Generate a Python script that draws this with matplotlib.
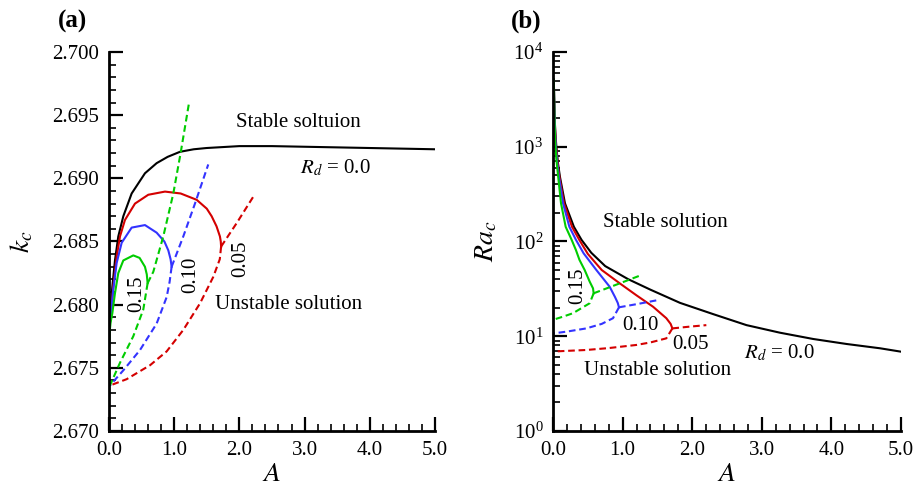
"""Critical wavenumber k_c and critical Rayleigh number Ra_c versus A for several R_d."""

import matplotlib
matplotlib.use("Agg")
import matplotlib.pyplot as plt
from matplotlib.ticker import MultipleLocator, FormatStrFormatter, LogLocator, LogFormatterMathtext, NullFormatter

plt.rcParams['font.family'] = ['Liberation Serif', 'DejaVu Serif']
plt.rcParams['mathtext.fontset'] = 'stix'

RED = '#d40000'
BLUE = '#3333ff'
GREEN = '#00cc00'

# ---- panel (a): k_c vs A ----
a_black = [0.0, 0.005, 0.02, 0.051, 0.092, 0.143, 0.22, 0.348, 0.552, 0.731, 0.9, 1.089, 1.3, 1.498,
           2.0, 2.5, 3.0, 3.5, 4.0, 4.5, 5.0]
k_black = [2.6765, 2.6780, 2.6793, 2.6814, 2.6835, 2.6854, 2.6870, 2.6888, 2.6904, 2.6912, 2.6917, 2.6921,
           2.6923, 2.6924, 2.69255, 2.69255, 2.6925, 2.69245, 2.6924, 2.69235, 2.6923]

a_red_s = [0.0, 0.005, 0.031, 0.066, 0.118, 0.169, 0.245, 0.399, 0.603, 0.859, 1.1, 1.345, 1.5, 1.575,
           1.65, 1.702, 1.715, 1.72]
k_red_s = [2.6765, 2.6780, 2.6793, 2.6814, 2.6838, 2.6854, 2.6867, 2.6880, 2.6887, 2.68895, 2.6888, 2.6883,
           2.6876, 2.6870, 2.6862, 2.6854, 2.6850, 2.6846]
a_red_lo = [1.72, 1.70, 1.6, 1.396, 1.14, 0.885, 0.629, 0.53, 0.271, 0.015]
k_red_lo = [2.6846, 2.6836, 2.6822, 2.6801, 2.6780, 2.6763, 2.6752, 2.6749, 2.6741, 2.6736]
a_red_up = [1.72, 1.958, 2.214]
k_red_up = [2.6846, 2.68645, 2.68855]

a_blue_s = [0.0, 0.005, 0.031, 0.066, 0.118, 0.195, 0.348, 0.552, 0.731, 0.85, 0.91, 0.945, 0.961]
k_blue_s = [2.6765, 2.6780, 2.6793, 2.6812, 2.6833, 2.6849, 2.6861, 2.6863, 2.6857, 2.6850, 2.6843,
            2.6836, 2.6830]
a_blue_lo = [0.961, 0.93, 0.885, 0.731, 0.475, 0.22, 0.015]
k_blue_lo = [2.6830, 2.6818, 2.6806, 2.6785, 2.6764, 2.6748, 2.6736]
a_blue_up = [0.961, 1.14, 1.319, 1.523]
k_blue_up = [2.6830, 2.6854, 2.6880, 2.6911]

a_green_s = [0.0, 0.01, 0.025, 0.051, 0.092, 0.143, 0.22, 0.373, 0.47, 0.552, 0.58, 0.593]
k_green_s = [2.6765, 2.6778, 2.6786, 2.6793, 2.6809, 2.6825, 2.6835, 2.6839, 2.6837, 2.6830, 2.6824, 2.6817]
a_green_lo = [0.593, 0.526, 0.373, 0.169, 0.015]
k_green_lo = [2.6817, 2.6796, 2.6775, 2.6754, 2.6736]
a_green_up = [0.593, 0.68, 0.833, 0.987, 1.099, 1.232]
k_green_up = [2.6817, 2.6826, 2.6854, 2.6888, 2.6920, 2.6961]

# ---- panel (b): Ra_c vs A ----
b_black = [0.012, 0.016, 0.024, 0.034, 0.048, 0.07, 0.1, 0.172, 0.3, 0.41, 0.55, 0.75, 1.08, 1.4,
           1.825, 2.303, 2.78, 3.26, 3.74, 4.22, 4.7, 5.0]
ra_black = [5100, 3300, 2000, 1400, 1000, 680, 480, 253, 143, 104, 76, 55, 40, 31,
            22.5, 17.1, 13.1, 10.9, 9.35, 8.28, 7.46, 6.87]

b_red_s = [0.012, 0.016, 0.023, 0.032, 0.044, 0.065, 0.092, 0.158, 0.273, 0.378, 0.5, 0.7, 0.958, 1.2,
           1.437, 1.628, 1.69, 1.715]
ra_red_s = [5100, 3300, 2000, 1400, 1000, 680, 480, 253, 143, 104, 74, 50, 36.2, 27,
            20.5, 15.5, 13.5, 12.1]
b_red_lo = [1.715, 1.628, 1.4, 1.197, 0.8, 0.479, 0.0]
ra_red_lo = [12.1, 9.5, 8.6, 8.09, 7.5, 7.16, 6.9]
b_red_up = [1.715, 1.95, 2.203]
ra_red_up = [12.1, 12.6, 13.1]

b_blue_s = [0.012, 0.016, 0.022, 0.03, 0.04, 0.06, 0.085, 0.144, 0.235, 0.33, 0.44, 0.623, 0.814,
            0.89, 0.93, 0.948]
ra_blue_s = [5100, 3300, 2000, 1400, 1000, 680, 480, 253, 143, 104, 75, 50, 33.3, 26, 22.5, 20.2]
b_blue_lo = [0.948, 0.862, 0.7, 0.479, 0.2, 0.0]
ra_blue_lo = [20.2, 15.5, 13.5, 12.1, 11.2, 10.7]
b_blue_up = [0.948, 1.23, 1.509]
ra_blue_up = [20.2, 22.0, 24.1]

b_green_s = [0.012, 0.016, 0.021, 0.027, 0.035, 0.053, 0.075, 0.115, 0.182, 0.268, 0.33, 0.38,
             0.455, 0.527, 0.575, 0.584]
ra_green_s = [5100, 3300, 2000, 1400, 1000, 680, 480, 253, 143, 104, 81, 64, 50, 37.7, 32, 28.4]
b_green_lo = [0.584, 0.527, 0.287, 0.144, 0.0]
ra_green_lo = [28.4, 22.3, 17.5, 16.1, 14.9]
b_green_up = [0.584, 0.9, 1.236]
ra_green_up = [28.4, 34.8, 43.3]

DASH = (0, (3.2, 1.8))
LW = 1.5


def style_axes(ax):
    ax.spines['top'].set_visible(False)
    ax.spines['right'].set_visible(False)
    ax.spines['left'].set_linewidth(2.0)
    ax.spines['bottom'].set_linewidth(2.0)
    ax.tick_params(which='major', direction='in', length=10, width=1.6, labelsize=15, pad=7)
    ax.tick_params(which='minor', direction='in', length=5, width=1.2)
    ax.set_xlim(0, 5)
    ax.xaxis.set_major_locator(MultipleLocator(1.0))
    ax.xaxis.set_minor_locator(MultipleLocator(0.2))
    ax.xaxis.set_major_formatter(FormatStrFormatter('%.1f'))
    ax.set_xlabel('$A$', fontsize=20, labelpad=2)


fig = plt.figure(figsize=(9.18, 4.86), dpi=100)
ax1 = fig.add_axes([0.1187, 0.1132, 0.3551, 0.7798])
ax2 = fig.add_axes([0.6024, 0.1132, 0.3791, 0.7798])

# panel (a)
ax1.plot(a_black, k_black, color='black', lw=LW)
for a_s, k_s, a_lo, k_lo, a_up, k_up, c in [
        (a_red_s, k_red_s, a_red_lo, k_red_lo, a_red_up, k_red_up, RED),
        (a_blue_s, k_blue_s, a_blue_lo, k_blue_lo, a_blue_up, k_blue_up, BLUE),
        (a_green_s, k_green_s, a_green_lo, k_green_lo, a_green_up, k_green_up, GREEN)]:
    ax1.plot(a_s, k_s, color=c, lw=LW)
    ax1.plot(a_lo, k_lo, color=c, lw=LW, linestyle=DASH)
    ax1.plot(a_up, k_up, color=c, lw=LW, linestyle=DASH)

style_axes(ax1)
ax1.set_ylim(2.670, 2.700)
ax1.yaxis.set_major_locator(MultipleLocator(0.005))
ax1.yaxis.set_minor_locator(MultipleLocator(0.001))
ax1.yaxis.set_major_formatter(FormatStrFormatter('%.3f'))
ax1.set_ylabel('$k_c$', fontsize=20, labelpad=12)

ax1.text(2.91, 2.6944, 'Stable soltuion', fontsize=15, ha='center', va='center')
ax1.text(3.47, 2.6908, '$R_d$ = 0.0', fontsize=15, ha='center', va='center')
ax1.text(2.76, 2.6800, 'Unstable solution', fontsize=15, ha='center', va='center')
ax1.text(0.43, 2.6809, '0.15', fontsize=15, ha='center', va='center', rotation=90)
ax1.text(1.26, 2.6824, '0.10', fontsize=15, ha='center', va='center', rotation=90)
ax1.text(2.02, 2.6836, '0.05', fontsize=15, ha='center', va='center', rotation=90)

# panel (b)
ax2.plot(b_black, ra_black, color='black', lw=LW)
for b_s, r_s, b_lo, r_lo, b_up, r_up, c in [
        (b_red_s, ra_red_s, b_red_lo, ra_red_lo, b_red_up, ra_red_up, RED),
        (b_blue_s, ra_blue_s, b_blue_lo, ra_blue_lo, b_blue_up, ra_blue_up, BLUE),
        (b_green_s, ra_green_s, b_green_lo, ra_green_lo, b_green_up, ra_green_up, GREEN)]:
    ax2.plot(b_s, r_s, color=c, lw=LW)
    ax2.plot(b_lo, r_lo, color=c, lw=LW, linestyle=DASH)
    ax2.plot(b_up, r_up, color=c, lw=LW, linestyle=DASH)

ax2.set_yscale('log')
style_axes(ax2)
ax2.set_ylim(1, 1e4)
ax2.yaxis.set_major_locator(LogLocator(base=10, numticks=10))
ax2.yaxis.set_minor_locator(LogLocator(base=10, subs=range(2, 10), numticks=20))
ax2.yaxis.set_major_formatter(LogFormatterMathtext())
ax2.yaxis.set_minor_formatter(NullFormatter())
ax2.set_ylabel('$Ra_c$', fontsize=20, labelpad=10)

ax2.text(1.61, 157, 'Stable solution', fontsize=15, ha='center', va='center')
ax2.text(0.35, 34, '0.15', fontsize=15, ha='center', va='center', rotation=90)
ax2.text(1.254, 13.1, '0.10', fontsize=15, ha='center', va='center')
ax2.text(1.97, 8.1, '0.05', fontsize=15, ha='center', va='center')
ax2.text(3.25, 6.7, '$R_d$ = 0.0', fontsize=15, ha='center', va='center')
ax2.text(1.5, 4.4, 'Unstable solution', fontsize=15, ha='center', va='center')

fig.text(0.0795, 0.955, '(a)', fontsize=18, fontweight='bold', ha='center', va='center')
fig.text(0.573, 0.957, '(b)', fontsize=18, fontweight='bold', ha='center', va='center')

fig.savefig('out.png', dpi=100)
